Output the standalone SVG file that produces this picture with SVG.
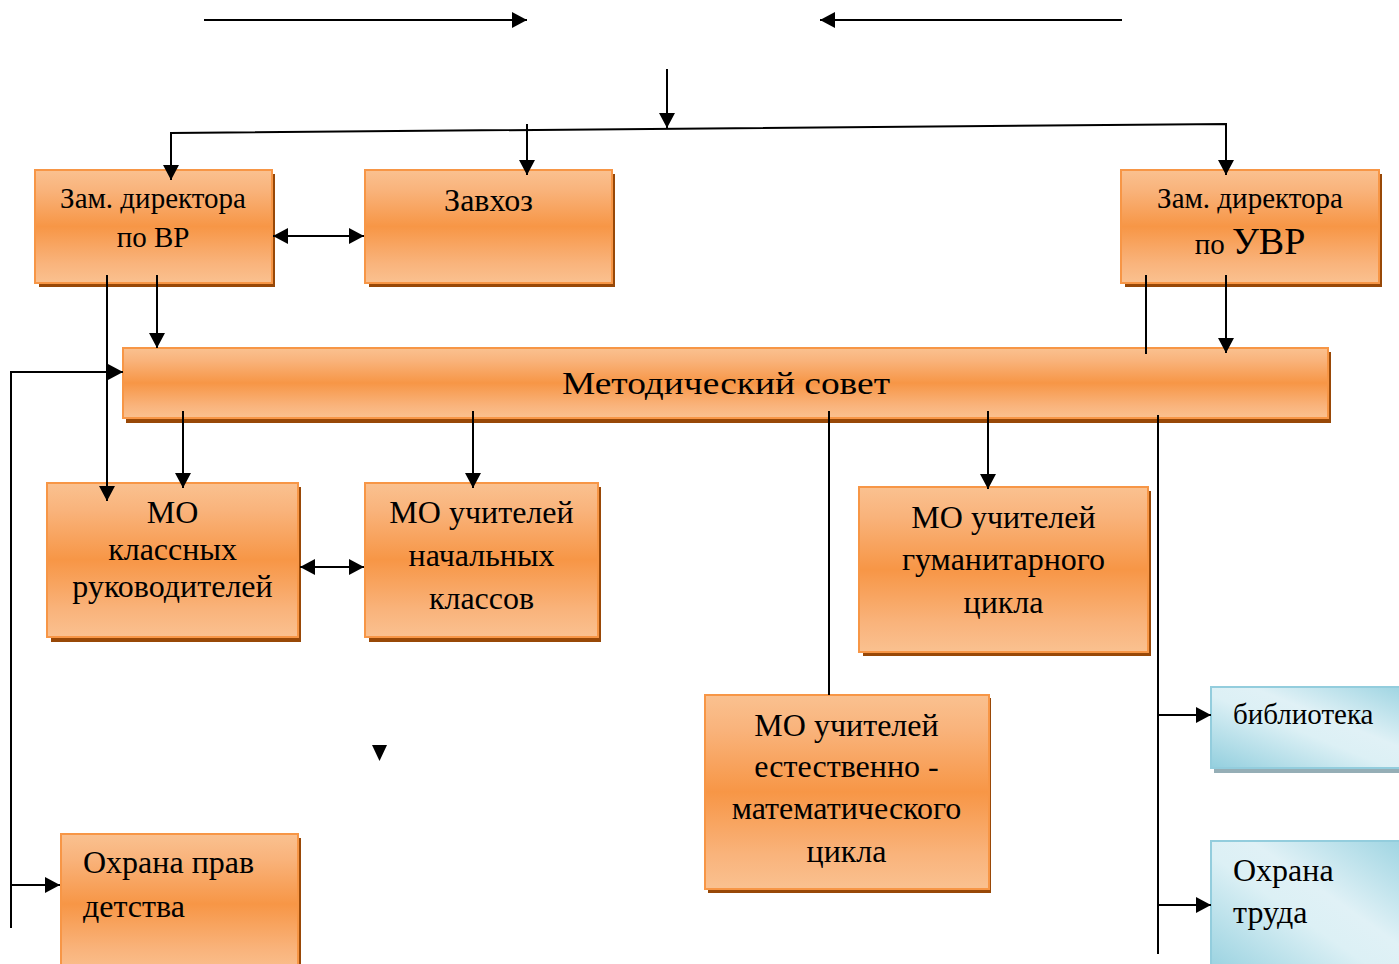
<svg xmlns="http://www.w3.org/2000/svg" width="1399" height="964" viewBox="0 0 1399 964">
<defs>
  <linearGradient id="og" x1="0" y1="0" x2="0" y2="1">
    <stop offset="0" stop-color="#fac190"/>
    <stop offset="0.18" stop-color="#f9b37b"/>
    <stop offset="0.5" stop-color="#f79646"/>
    <stop offset="0.82" stop-color="#f9b37b"/>
    <stop offset="1" stop-color="#fac190"/>
  </linearGradient>
  <linearGradient id="bg" x1="0" y1="1" x2="1" y2="0">
    <stop offset="0" stop-color="#93cfde"/>
    <stop offset="0.45" stop-color="#dcf0f5"/>
    <stop offset="0.6" stop-color="#e0f1f6"/>
    <stop offset="1" stop-color="#9bd3e1"/>
  </linearGradient>
  <marker id="ah" markerUnits="userSpaceOnUse" markerWidth="16" markerHeight="16" refX="15" refY="8" orient="auto-start-reverse">
    <path d="M0,0 L15,8 L0,16 z" fill="#000"/>
  </marker>
</defs>
<style>
  .ob { fill: url(#og); stroke: #f79646; stroke-width: 2; }
  .os { fill: #984807; }
  .bb { fill: url(#bg); stroke: #93cddd; stroke-width: 2; }
  .bs { fill: #95aeb6; }
  .t { font-family: "Liberation Serif", "Times New Roman", serif; font-size: 32px; fill: #000; }
  .s { font-size: 29px; }
  .c { text-anchor: middle; }
  .ln { stroke: #000; stroke-width: 2; fill: none; }
  .ar { marker-end: url(#ah); }
  .da { marker-start: url(#ah); marker-end: url(#ah); }
</style>

<g id="node-zam-vr">
  <rect class="os" x="39" y="174" width="236" height="113"/>
  <rect class="ob" x="35" y="170" width="237" height="113"/>
  <text class="t s c" x="153" y="208">Зам. директора</text>
  <text class="t s c" x="153" y="247">по ВР</text>
</g>

<g id="node-zavhoz">
  <rect class="os" x="369" y="174" width="246" height="113"/>
  <rect class="ob" x="365" y="170" width="247" height="113"/>
  <text class="t c" x="488.5" y="211">Завхоз</text>
</g>

<g id="node-zam-uvr">
  <rect class="os" x="1125" y="174" width="257" height="113"/>
  <rect class="ob" x="1121" y="170" width="258" height="113"/>
  <text class="t s c" x="1250" y="208">Зам. директора</text>
  <text class="t c" x="1250" y="254"><tspan font-size="29">по </tspan><tspan font-size="38">УВР</tspan></text>
</g>

<g id="node-metod">
  <rect class="os" x="126" y="352" width="1205" height="71"/>
  <rect class="ob" x="123" y="348" width="1205" height="70"/>
  <text class="t c" x="726" y="394" font-size="41" textLength="328" lengthAdjust="spacingAndGlyphs">Методический совет</text>
</g>

<g id="node-mo-klass">
  <rect class="os" x="51" y="487" width="250" height="155"/>
  <rect class="ob" x="47" y="483" width="251" height="154"/>
  <text class="t c" x="172.5" y="523">МО</text>
  <text class="t c" x="172.5" y="560">классных</text>
  <text class="t c" x="172.5" y="597">руководителей</text>
</g>

<g id="node-mo-nach">
  <rect class="os" x="369" y="487" width="232" height="155"/>
  <rect class="ob" x="365" y="483" width="233" height="154"/>
  <text class="t c" x="481.5" y="523">МО учителей</text>
  <text class="t c" x="481.5" y="566">начальных</text>
  <text class="t c" x="481.5" y="609">классов</text>
</g>

<g id="node-mo-gum">
  <rect class="os" x="863" y="491" width="288" height="165"/>
  <rect class="ob" x="859" y="487" width="289" height="165"/>
  <text class="t c" x="1003.5" y="528">МО учителей</text>
  <text class="t c" x="1003.5" y="570">гуманитарного</text>
  <text class="t c" x="1003.5" y="613">цикла</text>
</g>

<g id="node-mo-est">
  <rect class="os" x="708" y="698" width="283" height="195"/>
  <rect class="ob" x="705" y="695" width="284" height="194"/>
  <text class="t c" x="846.5" y="736">МО учителей</text>
  <text class="t c" x="846.5" y="777">естественно -</text>
  <text class="t c" x="846.5" y="819">математического</text>
  <text class="t c" x="846.5" y="862">цикла</text>
</g>

<g id="node-ohrana-prav">
  <rect class="os" x="64" y="838" width="237" height="140"/>
  <rect class="ob" x="61" y="834" width="237" height="140"/>
  <text class="t" x="83" y="873">Охрана прав</text>
  <text class="t" x="83" y="917">детства</text>
</g>

<g id="node-biblioteka">
  <rect class="bs" x="1214" y="691" width="200" height="82"/>
  <rect class="bb" x="1211" y="687" width="200" height="81"/>
  <text class="t s" x="1233" y="724">библиотека</text>
</g>

<g id="node-ohrana-truda">
  <rect class="bs" x="1214" y="844" width="200" height="140"/>
  <rect class="bb" x="1211" y="841" width="200" height="140"/>
  <text class="t" x="1233" y="881">Охрана</text>
  <text class="t" x="1233" y="923">труда</text>
</g>

<g id="connectors">
  <line class="ln ar" x1="204" y1="20" x2="527" y2="20"/>
  <line class="ln ar" x1="1122" y1="20" x2="820" y2="20"/>
  <line class="ln ar" x1="667" y1="69" x2="667" y2="128"/>
  <path class="ln da" d="M171,180 L171,133 L1226,124 L1226,175"/>
  <line class="ln ar" x1="527" y1="124" x2="527" y2="175"/>
  <line class="ln da" x1="273" y1="236" x2="364" y2="236"/>
  <line class="ln ar" x1="107" y1="275" x2="107" y2="501"/>
  <line class="ln ar" x1="157" y1="275" x2="157" y2="348"/>
  <line class="ln" x1="1146" y1="275" x2="1146" y2="354"/>
  <line class="ln ar" x1="1226" y1="275" x2="1226" y2="353"/>
  <polyline class="ln" points="11,928 11,372 20,372"/>
  <line class="ln ar" x1="11" y1="372" x2="123" y2="372"/>
  <line class="ln ar" x1="11" y1="885" x2="60" y2="885"/>
  <line class="ln ar" x1="183" y1="411" x2="183" y2="488"/>
  <line class="ln ar" x1="473" y1="411" x2="473" y2="488"/>
  <line class="ln" x1="829" y1="411" x2="829" y2="695"/>
  <line class="ln ar" x1="988" y1="411" x2="988" y2="489"/>
  <line class="ln" x1="1158" y1="415" x2="1158" y2="954"/>
  <line class="ln ar" x1="1158" y1="715" x2="1211" y2="715"/>
  <line class="ln ar" x1="1158" y1="905" x2="1211" y2="905"/>
  <line class="ln da" x1="300" y1="567" x2="364" y2="567"/>
  <path d="M372,745 L387,745 L379.5,761 z" fill="#000"/>
</g>
</svg>
